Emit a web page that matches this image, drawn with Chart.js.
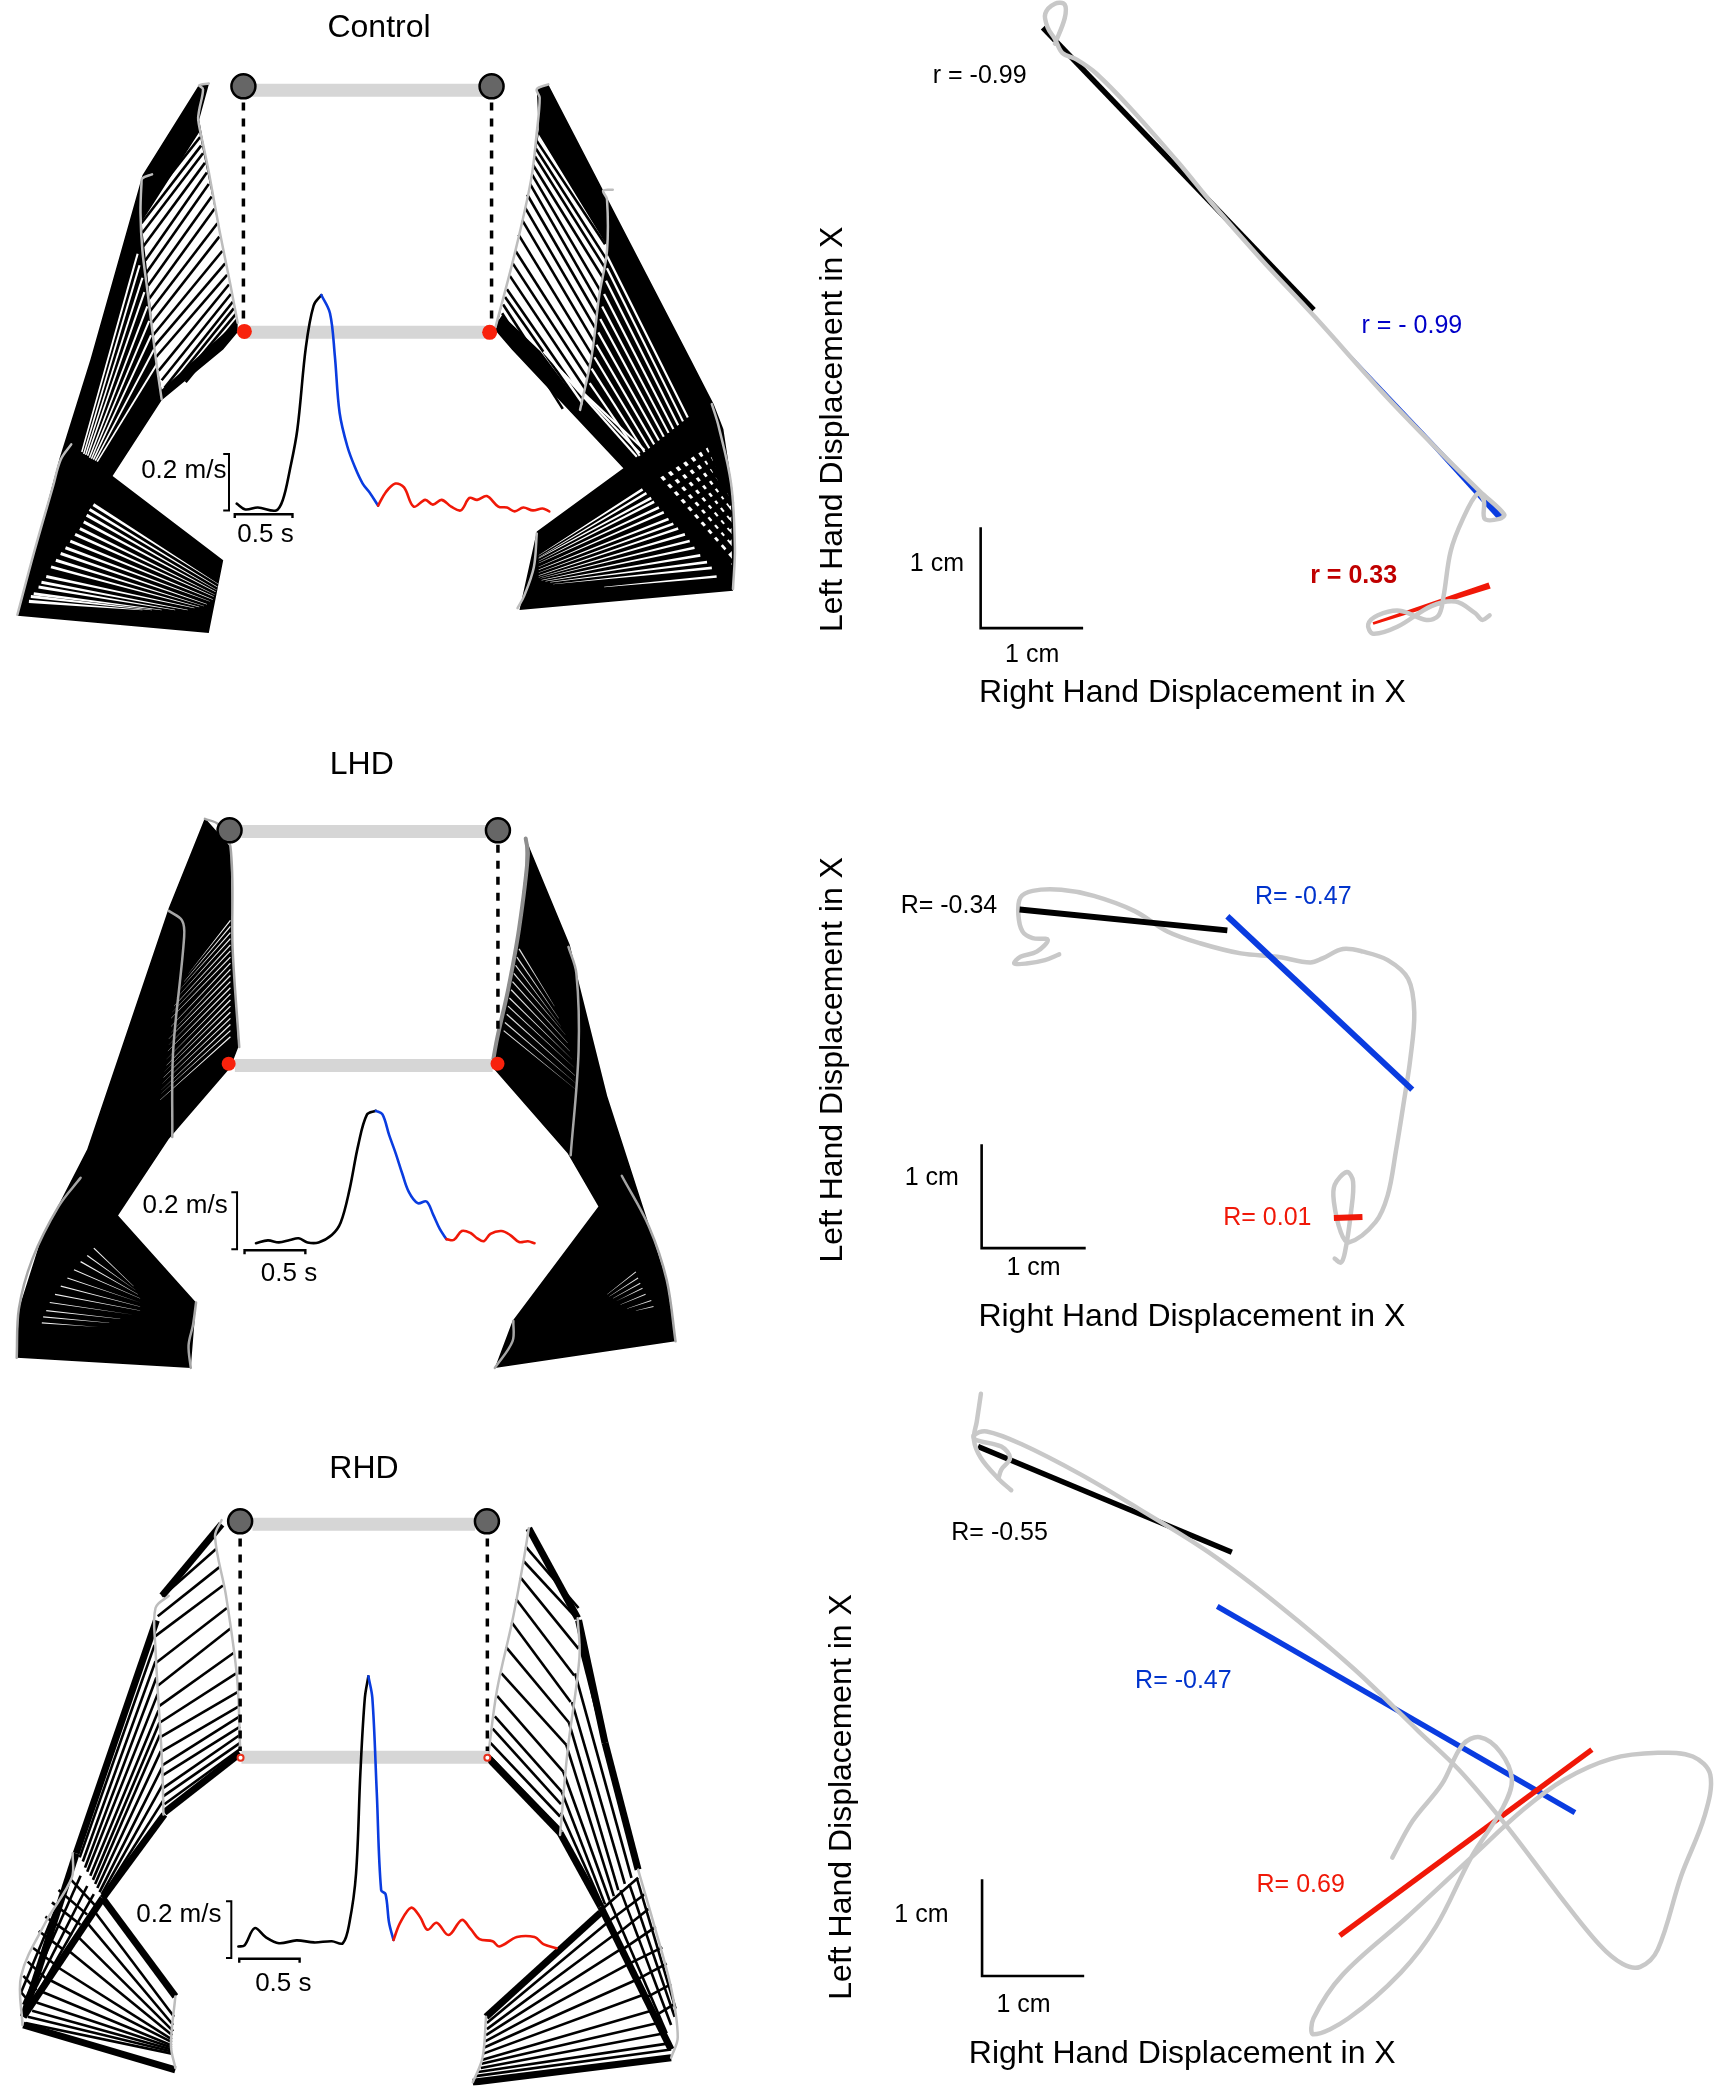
<!DOCTYPE html>
<html>
<head>
<meta charset="utf-8">
<title>Bimanual displacement</title>
<script src="https://cdn.jsdelivr.net/npm/chart.js@4"></script>
<style>
body { margin: 0; background: #fff; }
canvas { position: absolute; }
</style>
</head>
<body>
<canvas id="armsControl" width="760" height="680" style="left:0;top:0"></canvas>
<canvas id="xyControl" width="760" height="720" style="left:800px;top:0"></canvas>
<canvas id="armsLHD" width="720" height="670" style="left:0;top:730px"></canvas>
<canvas id="xyLHD" width="640" height="530" style="left:800px;top:830px"></canvas>
<canvas id="armsRHD" width="720" height="670" style="left:0;top:1430px"></canvas>
<canvas id="xyRHD" width="915" height="720" style="left:800px;top:1380px"></canvas>
<script>
// ---- Control, arm sticks
var ctrlLeftOutline = [[192,73],[133,168],[79,360],[47,463],[3,627],[3,628],[202,646],[217,570],[102,482],[153,403],[217,350],[232,332],[232,323],[213,227],[200,153],[192,110],[202,73]];
var ctrlLeftOpen = [[192,123],[213,227],[232,320],[153,392],[147,360],[137,260],[132,217]];
var ctrlLeftSticks = [[193,128,131,207],[194,137,132,218],[196,145,133,228],[198,155,134,242],[200,165,136,257],[202,177,137,270],[205,190,139,283],[208,203,140,297],[211,218,141,310],[213,232,143,322],[216,247,144,335],[219,260,145,347],[221,272,147,358],[223,282,150,372],[225,292,153,382],[227,300,156,390],[228,307,160,392],[230,313,168,388],[231,319,178,384]];
var ctrlLeftUpper = [[128,250,70,457],[130,262,72,459],[133,275,74,460],[135,290,76,461],[138,305,78,463],[140,320,80,464],[142,335,82,465],[145,350,84,466],[150,362,86,467]];
var ctrlLeftTorso = [[82,512,212,595],[78,517,211,598],[75,523,210,601],[72,530,209,603],[68,537,208,606],[63,543,207,608],[58,550,206,611],[53,557,203,613],[48,563,200,616],[43,570,197,618],[38,577,192,619],[33,587,187,620],[28,593,180,622],[25,598,167,622],[20,605,153,622],[17,608,143,622],[15,613,133,622]];
var ctrlLeftTraces = [
    [[202,72],[192,74],[196,78],[192,100],[191,110],[197,140],[203,170],[213,225],[224,280],[232,322]],
    [[143,167],[133,171],[132,177],[131,207],[133,247],[138,287],[147,360],[153,402]],
    [[59,449],[48,465],[40,493],[20,563],[3,627]]
];
var ctrlRightOutline = [[555,73],[703,360],[727,407],[737,433],[747,500],[749,557],[747,602],[525,622],[543,540],[633,474],[517,350],[500,330],[520,250],[537,173],[545,120],[543,78]];
var ctrlRightOpen = [[545,125],[537,173],[520,250],[503,320],[507,314],[547,352],[590,410],[600,357],[608,293],[616,247],[615,240]];
var ctrlRightSticks = [[543,132,614,240],[542,140,615,255],[541,148,616,268],[539,157,616,282],[538,167,614,297],[536,177,612,310],[533,188,610,322],[531,202,608,335],[528,215,606,348],[524,230,603,360],[521,247,601,373],[518,260,599,385],[515,273,596,395],[512,287,593,405],[510,295,590,410],[508,303,580,415],[507,312,570,412]];
var ctrlRightUpper = [[550,352,647,462],[563,367,650,458],[577,382,655,455],[598,385,650,461],[600,370,655,457],[603,358,660,453],[605,345,665,449],[607,332,670,445],[609,318,675,441],[611,305,680,437],[613,292,685,433],[615,278,690,429],[616,265,695,425],[616,252,700,421]];
var ctrlRightHatchOpen = [[667,483],[722,448],[745,510],[746,575]];
var ctrlRightHatchA = [[667,483,722,448],[674,491,726,458],[681,499,729,468],[688,507,732,478],[695,515,735,488],[702,523,738,498],[709,531,741,507],[716,539,744,518],[723,547,745,530],[730,555,745,542],[738,564,746,556]];
var ctrlRightHatchB = [[667,483,746,573],[675,478,746,560],[683,473,746,548],[691,468,746,536],[699,463,746,524],[707,458,746,512],[715,453,742,500],[722,448,738,488]];
var ctrlRightTorso = [[653,496,545,565],[657,500,545,567],[662,505,545,568],[665,509,545,571],[670,515,545,573],[675,520,545,577],[680,527,545,580],[685,532,545,583],[690,537,545,586],[697,543,545,588],[702,550,547,589],[707,557,548,591],[713,565,552,592],[720,572,557,593],[725,578,560,595],[730,587,613,598]];
var ctrlRightTraces = [
    [[555,73],[543,78],[546,87],[543,123],[537,173],[520,250],[500,327]],
    [[622,183],[612,184],[616,193],[616,247],[608,293],[600,357],[588,413]],
    [[725,407],[732,430],[745,490],[749,557],[747,600]],
    [[543,542],[540,577],[530,607],[523,620]]
];
var ctrlSpeedUp = [[231,511],[240,517],[253,515],[272,518],[279,507],[286,477],[294,434],[303,347],[311,304],[319,293]];
var ctrlSpeedDown = [[319,293],[328,312],[333,356],[338,416],[346,451],[354,473],[362,490],[369,499],[378,513]];
var ctrlSpeedEnd = [[378,513],[386,499],[396,490],[405,494],[415,514],[427,507],[435,512],[444,507],[454,514],[464,518],[473,505],[481,507],[491,503],[503,514],[512,515],[520,519],[529,515],[539,518],[549,516],[556,519]];

// ---- Control, left hand vs right hand
var ctrlPath = [[525,95],[545,40],[545,10],[525,8],[505,30],[510,60],[525,85],[540,115],[570,130],[610,160],[680,235],[780,355],[850,445],[950,565],[1060,690],[1200,855],[1300,965],[1400,1070],[1450,1120],[1440,1130],[1410,1130],[1408,1090],[1395,1075],[1365,1130],[1340,1200],[1325,1300],[1315,1340],[1290,1350],[1235,1330],[1190,1340],[1170,1360],[1180,1380],[1230,1365],[1300,1320],[1350,1310],[1390,1335],[1405,1350],[1420,1340]];
var ctrlFitUp = [500,60,1058,675];
var ctrlFitDown = [1060,690,1445,1130];
var ctrlFitEnd = [1180,1358,1420,1275];

// ---- LHD, arm sticks
var lhdLeftOutline = [[432,180],[490,250],[495,500],[508,740],[490,790],[350,965],[235,1152],[412,1365],[400,1525],[5,1500],[10,1380],[60,1210],[165,990],[350,400]];
var lhdLeftUpper = [[490,430,395,560],[490,445,385,580],[490,460,375,600],[490,475,368,620],[490,490,362,640],[490,505,358,655],[490,520,355,670],[490,535,355,690],[490,550,355,705],[490,565,350,720],[490,580,350,735],[490,595,348,750],[490,610,345,770],[490,625,345,785],[490,640,340,800],[490,655,338,815],[490,670,335,830],[490,685,333,845],[490,700,332,855],[490,715,330,870]];
var lhdLeftTorso = [[180,1232,270,1325],[165,1250,275,1335],[150,1265,280,1345],[135,1285,285,1355],[120,1305,285,1365],[105,1325,285,1375],[92,1345,285,1385],[80,1365,270,1395],[72,1385,240,1405],[65,1400,215,1415],[62,1415,190,1425]];
var lhdLeftTraces = [
    [[432,182],[462,195],[490,250],[495,500],[510,740]],
    [[350,407],[380,430],[385,470],[360,750],[358,960]],
    [[150,1060],[100,1130],[40,1260],[10,1380],[5,1500]],
    [[412,1365],[405,1420],[395,1470],[400,1525]]
];
var lhdRightOutline = [[1160,230],[1260,490],[1280,580],[1345,860],[1420,1110],[1480,1310],[1500,1460],[1090,1525],[1130,1410],[1325,1130],[1255,1000],[1085,790],[1100,690],[1140,480],[1160,300]];
var lhdRightUpper = [[1145,500,1225,640],[1140,520,1235,670],[1137,540,1240,690],[1133,560,1250,710],[1130,580,1255,730],[1127,600,1260,750],[1123,620,1265,770],[1120,640,1270,790],[1117,660,1272,810],[1113,680,1275,830],[1110,700,1275,845]];
var lhdRightTorso = [[1410,1290,1345,1345],[1415,1305,1350,1350],[1420,1318,1358,1355],[1425,1330,1365,1362],[1432,1345,1375,1370],[1445,1360,1390,1380],[1450,1375,1410,1385]];
var lhdRightRail = [[1160,230],[1165,270],[1145,450],[1120,600],[1095,720],[1085,780]];
var lhdRightTraces = [
    [[1257,495],[1275,560],[1280,750],[1262,1005]],
    [[1378,1055],[1440,1180],[1480,1310],[1500,1460]],
    [[1132,1410],[1130,1460],[1090,1525]]
];
var lhdSpeedUp = [[548,1220],[575,1213],[600,1218],[625,1212],[645,1208],[665,1218],[690,1218],[720,1200],[740,1170],[760,1090],[780,980],[800,905],[820,896]];
var lhdSpeedDown = [[820,896],[835,905],[850,955],[865,1000],[880,1050],[895,1095],[915,1122],[935,1118],[950,1150],[965,1185],[980,1210]];
var lhdSpeedEnd = [[980,1210],[997,1212],[1015,1190],[1035,1195],[1050,1208],[1065,1215],[1080,1197],[1105,1190],[1125,1200],[1145,1217],[1165,1215],[1180,1220]];

// ---- LHD, left hand vs right hand
var lhdPath = [[635,368],[600,385],[555,395],[525,395],[540,375],[580,360],[607,325],[570,320],[545,300],[535,250],[540,200],[570,180],[640,177],[720,195],[820,240],[900,300],[980,335],[1080,365],[1170,375],[1250,392],[1280,380],[1330,352],[1380,360],[1440,385],[1490,440],[1505,540],[1495,680],[1480,800],[1460,950],[1440,1080],[1410,1160],[1345,1220],[1325,1190],[1308,1100],[1310,1050],[1340,1012],[1355,1040],[1350,1130],[1335,1250],[1325,1280],[1310,1268]];
var lhdFitUp = [538,235,1047,297];
var lhdFitDown = [1047,255,1500,768];
var lhdFitEnd = [1308,1148,1378,1145];

// ---- RHD, arm sticks
var rhdLeftBands = [[470,195,335,370],[512,755,340,900],[322,430,140,1000],[340,905,200,1110],[140,1000,20,1400],[200,1110,20,1400],[200,1110,365,1350],[20,1420,365,1530]];
var rhdLeftSticks = [[458,255,335,372],[465,300,325,420],[473,345,318,470],[482,400,320,535],[490,450,325,590],[497,510,328,640],[503,560,330,680],[507,605,332,715],[510,640,335,750],[511,665,335,785],[512,690,335,810],[512,710,338,840],[512,730,338,860],[512,745,340,880],
    [318,490,148,1010],[320,530,155,1020],[322,570,160,1035],[325,610,165,1045],[327,650,172,1055],[329,680,178,1065],[330,710,183,1075],[332,750,188,1085],[335,790,193,1095],[337,830,198,1100],[338,870,200,1105],
    [120,1055,185,1130],[100,1090,165,1150],[85,1120,150,1175],[70,1155,130,1200],[55,1190,110,1235],[40,1230,90,1270],[30,1265,70,1305],[20,1300,50,1335],[15,1340,35,1365],
    [135,1030,15,1340],[150,1055,20,1370],[165,1080,22,1385],[180,1100,25,1395],
    [180,1140,362,1400],[165,1170,360,1420],[145,1205,360,1435],[125,1240,358,1445],[100,1280,357,1455],[80,1310,357,1462],[65,1340,357,1470],[50,1365,357,1475],[40,1385,357,1480],[30,1400,357,1485],[25,1415,357,1490]];
var rhdLeftTraces = [
    [[470,185],[455,225],[480,370],[505,570],[512,740]],
    [[350,370],[320,400],[320,500],[335,780],[338,905]],
    [[132,1000],[130,1060],[70,1170],[15,1300],[18,1420]],
    [[365,1350],[355,1470],[365,1525]]
];
var rhdRightBands = [[1167,205,1278,425],[1280,430,1340,730],[1340,730,1415,1040],[1078,770,1238,950],[1238,950,1330,1130],[1330,1130,1490,1480],[1330,1145,1070,1400],[1490,1500,1040,1560]];
var rhdRightSticks = [[1160,250,1280,400],[1155,285,1280,430],[1148,325,1280,500],[1138,378,1270,565],[1128,435,1262,630],[1115,495,1258,680],[1105,560,1252,735],[1095,615,1245,800],[1090,665,1242,850],[1085,695,1240,880],[1080,730,1238,910],[1076,760,1238,940],
    [1282,490,1412,1040],[1272,560,1400,1060],[1265,630,1385,1075],[1258,680,1370,1090],[1252,735,1360,1105],[1245,800,1350,1115],[1242,850,1340,1125],[1240,900,1335,1130],
    [1335,1135,1415,1060],[1350,1165,1430,1100],[1365,1200,1440,1135],[1380,1235,1455,1180],[1395,1270,1470,1230],[1410,1310,1480,1270],[1430,1355,1490,1320],[1450,1400,1495,1370],
    [1350,1115,1480,1440],[1375,1090,1490,1420],[1395,1075,1498,1400],[1412,1060,1500,1380],
    [1345,1170,1072,1415],[1360,1200,1072,1430],[1375,1235,1070,1445],[1395,1270,1068,1460],[1410,1310,1066,1475],[1430,1345,1064,1490],[1445,1385,1062,1505],[1460,1415,1060,1515],[1475,1440,1058,1525],[1485,1465,1052,1535],[1490,1480,1046,1545]];
var rhdRightTraces = [
    [[1167,205],[1155,285],[1130,430],[1095,600],[1075,760]],
    [[1278,425],[1282,520],[1255,750],[1238,955]],
    [[1415,1040],[1450,1170],[1490,1330],[1505,1450],[1490,1500]],
    [[1070,1400],[1062,1500],[1040,1560]]
];
var rhdSpeedUp = [[508,1228],[522,1225],[545,1183],[570,1205],[600,1220],[640,1213],[680,1218],[720,1215],[745,1220],[760,1170],[775,1050],[785,800],[795,620],[803,567]];
var rhdSpeedDown = [[803,567],[812,620],[822,850],[832,1090],[842,1100],[850,1170],[860,1212]];
var rhdSpeedEnd = [[860,1212],[875,1170],[900,1133],[920,1155],[937,1187],[958,1170],[985,1200],[1015,1163],[1035,1185],[1055,1210],[1085,1215],[1100,1228],[1140,1205],[1180,1205],[1200,1222],[1230,1232]];

// ---- RHD, left hand vs right hand
var rhdPathA = [[310,30],[303,90],[298,130],[310,170],[340,215],[362,240]];
var rhdPathB = [[340,215],[345,195],[360,170],[345,145],[300,130],[298,120],[320,112],[380,140],[480,205],[580,280],[700,375],[820,490],[950,630],[1060,765],[1130,850],[1210,970],[1300,1120],[1370,1230],[1410,1272],[1440,1278],[1470,1240],[1510,1080],[1550,950],[1560,860],[1530,820],[1470,812],[1390,825],[1310,870],[1240,935],[1150,1040],[1040,1170],[930,1295],[880,1390],[880,1425],[940,1390],[1030,1290],[1090,1190],[1150,1040],[1205,930],[1220,870],[1200,810],[1165,778],[1135,795],[1100,880],[1050,960],[1015,1040]];
var rhdFitUp = [305,145,740,375];
var rhdFitDown = [715,493,1328,942];
var rhdFitEnd = [925,1210,1357,805];

var BLUE = '#0a3ce0', RED = '#f01808', TRACE = '#bdbdbd', PATH = '#c8c8c8', BAR = '#d6d6d6';
var FONT = '"Liberation Sans", Arial, sans-serif';

function toXY(pts) {
    return pts.map(function (p) { return {x: p[0], y: p[1]}; });
}

function line(pts, color, width, extra) {
    return Object.assign({data: toXY(pts), showLine: true, borderColor: color, borderWidth: width,
        pointRadius: 0, fill: false, tension: 0, borderCapStyle: 'butt'}, extra || {});
}

function curve(pts, color, width) {
    return line(pts, color, width, {tension: 0.35, borderJoinStyle: 'round', borderCapStyle: 'round'});
}

function poly(pts, color) {
    return line(pts, color, 0, {fill: 'shape', backgroundColor: color});
}

function seg(s, color, width) {
    return line([[s[0], s[1]], [s[2], s[3]]], color, width);
}

// a stripe that narrows from w1 at its first end to w2 at the other
function stripe(s, color, w1, w2) {
    var dx = s[2] - s[0], dy = s[3] - s[1], len = Math.sqrt(dx * dx + dy * dy);
    var nx = -dy / len / 2, ny = dx / len / 2;
    return poly([[s[0] + nx * w1, s[1] + ny * w1], [s[2] + nx * w2, s[3] + ny * w2],
        [s[2] - nx * w2, s[3] - ny * w2], [s[0] - nx * w1, s[1] - ny * w1]], color);
}

function dot(x, y, fill, edge, edgeWidth, radius) {
    return {data: [{x: x, y: y}], showLine: false, pointRadius: radius, backgroundColor: fill,
        pointBackgroundColor: fill, pointBorderColor: edge, pointBorderWidth: edgeWidth};
}

function speed(up, down, end, width) {
    return [curve(up, '#000', width), curve(down, BLUE, width), curve(end, RED, width)];
}

function many(list, fn) {
    return list.map(fn);
}

function panel(id, xMax, yMax, sets, texts) {
    // Chart.js paints the first dataset last, so flip to keep painter's order
    new Chart(document.getElementById(id), {
        type: 'scatter',
        data: {datasets: sets.slice().reverse()},
        options: {
            responsive: false,
            animation: false,
            events: [],
            layout: {padding: 0},
            plugins: {legend: {display: false}, tooltip: {enabled: false}},
            scales: {
                x: {display: false, min: 0, max: xMax},
                y: {display: false, min: 0, max: yMax, reverse: true}
            }
        },
        plugins: [{
            id: 'panelText',
            afterDraw: function (chart) {
                var ctx = chart.ctx;
                texts.forEach(function (t) {
                    ctx.save();
                    ctx.translate(chart.scales.x.getPixelForValue(t.x), chart.scales.y.getPixelForValue(t.y));
                    if (t.up) { ctx.rotate(-Math.PI / 2); }
                    ctx.font = (t.bold ? 'bold ' : '') + t.size + 'px ' + FONT;
                    ctx.fillStyle = t.color || '#000';
                    ctx.textAlign = 'center';
                    ctx.textBaseline = 'middle';
                    ctx.fillText(t.text, 0, 0);
                    ctx.restore();
                });
            }
        }]
    });
}

// ---- Control arms (axis in page pixels)
var setsA = [];
setsA.push(poly(ctrlLeftOutline, '#000'), poly(ctrlLeftOpen, '#fff'));
setsA = setsA.concat(many(ctrlLeftSticks, function (s) { return seg(s, '#000', 2.6); }));
setsA = setsA.concat(many(ctrlLeftUpper, function (s) { return stripe(s, '#fff', 2.2, 1.6); }));
setsA = setsA.concat(many(ctrlLeftTorso, function (s) { return stripe(s, '#fff', 3.2, 0.5); }));
setsA = setsA.concat(many(ctrlLeftTraces, function (t) { return curve(t, TRACE, 2.5); }));
setsA.push(poly(ctrlRightOutline, '#000'), poly(ctrlRightOpen, '#fff'));
setsA = setsA.concat(many(ctrlRightSticks, function (s) { return seg(s, '#000', 2.6); }));
setsA = setsA.concat(many(ctrlRightUpper, function (s) { return stripe(s, '#fff', 2.4, 2.2); }));
setsA.push(poly(ctrlRightHatchOpen, '#fff'));
setsA = setsA.concat(many(ctrlRightHatchA, function (s) { return seg(s, '#000', 5.5); }));
setsA = setsA.concat(many(ctrlRightHatchB, function (s) { return seg(s, '#000', 5.5); }));
setsA = setsA.concat(many(ctrlRightTorso, function (s) { return stripe(s, '#fff', 2.8, 0.4); }));
setsA = setsA.concat(many(ctrlRightTraces, function (t) { return curve(t, TRACE, 2.5); }));
setsA.push(line([[245, 79], [490, 79]], BAR, 13), line([[238, 332], [495, 332]], BAR, 13));
setsA.push(line([[238, 92], [238, 322]], '#000', 3.5, {borderDash: [8, 8]}), line([[496, 92], [496, 322]], '#000', 3.5, {borderDash: [8, 8]}));
setsA.push(dot(238, 75, '#666', '#000', 2.5, 12), dot(496, 75, '#666', '#000', 2.5, 12));
setsA.push(dot(239, 331, '#f8220c', '#f8220c', 0, 7.5), dot(494, 332, '#f8220c', '#f8220c', 0, 7.5));
setsA = setsA.concat(speed(ctrlSpeedUp, ctrlSpeedDown, ctrlSpeedEnd, 2.6));
setsA.push(line([[217, 459], [223, 459], [223, 518], [217, 518]], '#000', 2));
setsA.push(line([[229, 526], [229, 522], [289, 522], [289, 526]], '#000', 2.4));
panel('armsControl', 760, 680, setsA, [
    {text: 'Control', x: 379, y: 14, size: 32},
    {text: '0.2 m/s', x: 176, y: 477, size: 26},
    {text: '0.5 s', x: 261, y: 543, size: 26}
]);

// ---- Control displacement
panel('xyControl', 1565, 1568, [
    seg(ctrlFitUp, '#000', 5.5),
    stripe(ctrlFitDown, BLUE, 1, 14),
    stripe(ctrlFitEnd, RED, 6, 14),
    curve(ctrlPath, PATH, 4.5),
    line([[372, 1148], [372, 1368], [583, 1368]], '#000', 2.6)
], [
    {text: 'r = -0.99', x: 370, y: 165, size: 25},
    {text: 'r = - 0.99', x: 1260, y: 710, size: 25, color: '#0000c8'},
    {text: 'r = 0.33', x: 1140, y: 1255, size: 25, color: '#c00000', bold: true},
    {text: '1 cm', x: 282, y: 1228, size: 25},
    {text: '1 cm', x: 478, y: 1427, size: 25},
    {text: 'Left Hand Displacement in X', x: 68, y: 935, size: 32, up: true},
    {text: 'Right Hand Displacement in X', x: 808, y: 1510, size: 32}
]);

// ---- LHD arms
var setsC = [poly(lhdLeftOutline, '#000'), poly(lhdRightOutline, '#000')];
setsC = setsC.concat(many(lhdLeftUpper, function (s) { return stripe(s, '#eee', 3, 0.4); }));
setsC = setsC.concat(many(lhdLeftTorso, function (s) { return stripe(s, '#eee', 3, 0.4); }));
setsC = setsC.concat(many(lhdRightUpper, function (s) { return stripe(s, '#ddd', 3, 0.4); }));
setsC = setsC.concat(many(lhdRightTorso, function (s) { return stripe(s, '#ddd', 2.6, 0.4); }));
setsC = setsC.concat(many(lhdLeftTraces, function (t) { return curve(t, '#a6a6a6', 2.5); }));
setsC = setsC.concat(many(lhdRightTraces, function (t) { return curve(t, '#a6a6a6', 2.5); }));
setsC.push(curve(lhdRightRail, '#8e8e8e', 4));
setsC.push(line([[515, 213], [1070, 213]], BAR, 13), line([[500, 785], [1085, 785]], BAR, 13));
setsC.push(line([[1097, 245], [1097, 700]], '#000', 3.5, {borderDash: [8, 8]}));
setsC.push(dot(488, 210, '#666', '#000', 2.5, 12), dot(1097, 210, '#666', '#000', 2.5, 12));
setsC.push(dot(486, 781, '#f8220c', '#f8220c', 0, 7), dot(1096, 781, '#f8220c', '#f8220c', 0, 7));
setsC = setsC.concat(speed(lhdSpeedUp, lhdSpeedDown, lhdSpeedEnd, 2.6));
setsC.push(line([[492, 1095], [505, 1095], [505, 1235], [492, 1235]], '#000', 2));
setsC.push(line([[522, 1247], [522, 1237], [660, 1237], [660, 1247]], '#000', 2.4));
panel('armsLHD', 1568, 1568, setsC, [
    {text: 'LHD', x: 788, y: 50, size: 32},
    {text: '0.2 m/s', x: 387, y: 1128, size: 26},
    {text: '0.5 s', x: 623, y: 1296, size: 26}
]);

// ---- LHD displacement
panel('xyLHD', 1568, 1568, [
    curve(lhdPath, PATH, 4.5),
    seg(lhdFitUp, '#000', 6),
    seg(lhdFitDown, BLUE, 6),
    seg(lhdFitEnd, RED, 6),
    line([[445, 930], [445, 1237], [700, 1237]], '#000', 2.6)
], [
    {text: 'R= -0.34', x: 365, y: 225, size: 25},
    {text: 'R= -0.47', x: 1233, y: 198, size: 25, color: '#0033cc'},
    {text: 'R= 0.01', x: 1145, y: 1147, size: 25, color: RED},
    {text: '1 cm', x: 323, y: 1030, size: 25},
    {text: '1 cm', x: 572, y: 1297, size: 25},
    {text: 'Left Hand Displacement in X', x: 82, y: 680, size: 32, up: true},
    {text: 'Right Hand Displacement in X', x: 960, y: 1440, size: 32}
]);

// ---- RHD arms
var setsE = [];
setsE = setsE.concat(many(rhdLeftSticks, function (s) { return seg(s, '#000', 2.6); }));
setsE = setsE.concat(many(rhdRightSticks, function (s) { return seg(s, '#000', 2.6); }));
setsE = setsE.concat(many(rhdLeftBands, function (s) { return seg(s, '#000', 7); }));
setsE = setsE.concat(many(rhdRightBands, function (s) { return seg(s, '#000', 7); }));
setsE = setsE.concat(many(rhdLeftTraces, function (t) { return curve(t, TRACE, 2.5); }));
setsE = setsE.concat(many(rhdRightTraces, function (t) { return curve(t, TRACE, 2.5); }));
setsE.push(line([[540, 195], [1045, 195]], BAR, 13), line([[515, 765], [1075, 765]], BAR, 13));
setsE.push(line([[512, 230], [512, 750]], '#000', 3.5, {borderDash: [8, 8]}), line([[1073, 230], [1073, 750]], '#000', 3.5, {borderDash: [8, 8]}));
setsE.push(dot(512, 188, '#666', '#000', 2.5, 12), dot(1072, 188, '#666', '#000', 2.5, 12));
setsE.push(dot(513, 766, '#fff', '#e8301c', 2, 3), dot(1073, 766, '#fff', '#e8301c', 2, 3));
setsE = setsE.concat(speed(rhdSpeedUp, rhdSpeedDown, rhdSpeedEnd, 2.6));
setsE.push(line([[480, 1117], [492, 1117], [492, 1256], [480, 1256]], '#000', 2));
setsE.push(line([[510, 1268], [510, 1258], [647, 1258], [647, 1268]], '#000', 2.4));
panel('armsRHD', 1568, 1568, setsE, [
    {text: 'RHD', x: 793, y: 60, size: 32},
    {text: '0.2 m/s', x: 373, y: 1150, size: 26},
    {text: '0.5 s', x: 610, y: 1320, size: 26}
]);

// ---- RHD displacement
panel('xyRHD', 1568, 1568, [
    seg(rhdFitUp, '#000', 5.5),
    seg(rhdFitDown, BLUE, 5.5),
    seg(rhdFitEnd, RED, 5.5),
    curve(rhdPathA, PATH, 4.5),
    curve(rhdPathB, PATH, 4.5),
    line([[312, 1087], [312, 1298], [487, 1298]], '#000', 2.6)
], [
    {text: 'R= -0.55', x: 342, y: 333, size: 25},
    {text: 'R= -0.47', x: 657, y: 655, size: 25, color: '#0033cc'},
    {text: 'R= 0.69', x: 858, y: 1100, size: 25, color: RED},
    {text: '1 cm', x: 208, y: 1166, size: 25},
    {text: '1 cm', x: 383, y: 1362, size: 25},
    {text: 'Left Hand Displacement in X', x: 72, y: 908, size: 32, up: true},
    {text: 'Right Hand Displacement in X', x: 655, y: 1468, size: 32}
]);
</script>
</body>
</html>
